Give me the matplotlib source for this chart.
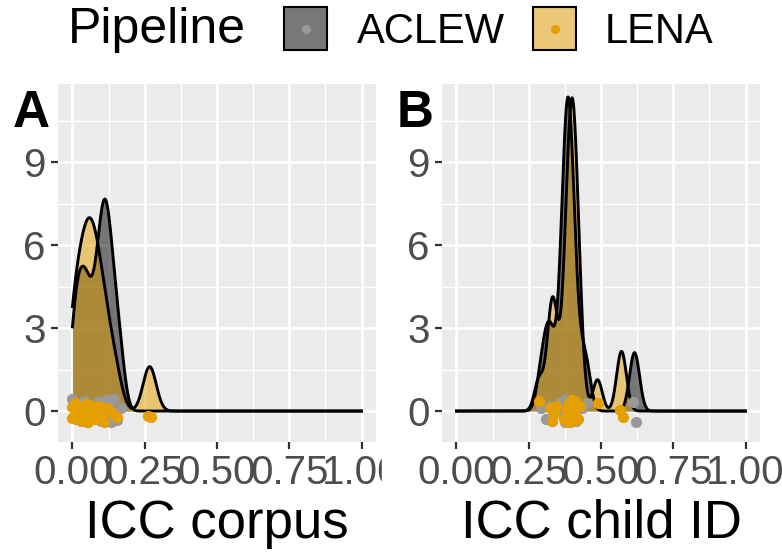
import numpy as np
import matplotlib.pyplot as plt
from matplotlib.patches import Rectangle

plt.rcParams['font.family'] = ['Liberation Sans', 'DejaVu Sans']

# ICC values per measure (one dot per measure)
corpus_aclew = [0.0, 0.0115, 0.0205, 0.0295, 0.0385, 0.05, 0.0546, 0.0703, 0.0817, 0.0897,
                0.0977, 0.104, 0.1095, 0.1145, 0.12, 0.1263, 0.1343, 0.1423, 0.1537, 0.1694]
corpus_lena = [0.0, 0.0, 0.01, 0.02, 0.03, 0.035, 0.042, 0.048, 0.054, 0.06, 0.066,
               0.072, 0.078, 0.085, 0.092, 0.1, 0.11, 0.12, 0.135, 0.155, 0.262, 0.272]
child_aclew = [0.292, 0.31, 0.322, 0.332, 0.358, 0.366, 0.371, 0.3755, 0.379, 0.3825, 0.385,
               0.387, 0.3895, 0.393, 0.3966, 0.401, 0.406, 0.414, 0.435, 0.452, 0.61, 0.622]
child_lena = [0.286, 0.322, 0.329, 0.336, 0.343, 0.372, 0.38, 0.385, 0.389, 0.393, 0.3965,
              0.399, 0.401, 0.4035, 0.407, 0.4106, 0.415, 0.42, 0.428, 0.488, 0.566, 0.576]

# vertical jitter of the dots as drawn
corpus_aclew_jit = [0.43, -0.3, 0.1, -0.2, 0.35, -0.4, 0.2, -0.1, 0.3, 0.34,
                    -0.35, 0.15, -0.25, 0.4, -0.05, 0.25, -0.38, 0.43, -0.32, 0.1]
corpus_lena_jit = [0.16, -0.25, 0.3, -0.08, -0.35, 0.1, -0.2, 0.25, -0.39, 0.22, -0.1,
                   0.05, -0.3, -0.08, 0.2, -0.25, -0.39, 0.1, -0.02, -0.2, -0.18, -0.22]
child_aclew_jit = [0.1, -0.28, 0.2, -0.35, 0.3, -0.1, 0.4, -0.4, 0.15, -0.2, 0.35,
                   -0.3, 0.05, -0.38, 0.25, -0.15, 0.3, -0.35, 0.1, 0.3, 0.34, -0.4]
child_lena_jit = [0.37, 0.1, -0.37, -0.1, 0.2, -0.3, 0.05, -0.4, 0.3, -0.15, 0.25,
                  -0.25, 0.4, -0.35, 0.1, 0.35, -0.2, -0.3, 0.2, 0.3, 0.04, -0.23]

# kernel bandwidths
bw_corpus = {'ACLEW': 0.017, 'LENA': 0.022}
bw_child = {'ACLEW': 0.016, 'LENA': 0.016}

pipelines = ['ACLEW', 'LENA']
fill_col = {'ACLEW': 'black', 'LENA': '#E69F00'}
dot_col = {'ACLEW': '#999999', 'LENA': '#E69F00'}

W, H = 782, 552
fig = plt.figure(figsize=(W / 100, H / 100), dpi=100)


def fx(px):
    return px / W


def fy(py):
    return 1 - py / H


def density(vals, h, grid):
    v = np.asarray(vals)
    z = (grid[:, None] - v[None, :]) / h
    return np.exp(-0.5 * z ** 2).sum(axis=1) / (len(v) * h * np.sqrt(2 * np.pi))


grid = np.linspace(0, 1, 1000)

panels = [
    (58, 'A', 'ICC corpus', {'ACLEW': corpus_aclew, 'LENA': corpus_lena},
     {'ACLEW': corpus_aclew_jit, 'LENA': corpus_lena_jit}, bw_corpus),
    (442, 'B', 'ICC child ID', {'ACLEW': child_aclew, 'LENA': child_lena},
     {'ACLEW': child_aclew_jit, 'LENA': child_lena_jit}, bw_child),
]

for left, tag, xlabel, data, jit, bws in panels:
    ax = fig.add_axes([fx(left), fy(442), 318 / W, 358 / H])
    ax.set_facecolor('#EBEBEB')
    for s in ax.spines.values():
        s.set_visible(False)
    ax.set_xlim(-0.05, 1.05)
    ax.set_ylim(-1.12, 11.83)
    ax.set_xticks([0, 0.25, 0.5, 0.75, 1.0])
    ax.set_xticklabels(['0.00', '0.25', '0.50', '0.75', '1.00'])
    ax.set_yticks([0, 3, 6, 9])
    ax.set_xticks([0.125, 0.375, 0.625, 0.875], minor=True)
    ax.set_yticks([1.5, 4.5, 7.5, 10.5], minor=True)
    ax.grid(which='major', color='white', lw=2.0)
    ax.grid(which='minor', color='white', lw=1.0)
    ax.set_axisbelow(True)
    ax.tick_params(which='major', length=5, width=1.6, color='#333333',
                   labelsize=29, labelcolor='#4D4D4D')
    ax.tick_params(axis='x', pad=3.5)
    ax.tick_params(axis='y', pad=4)
    ax.tick_params(which='minor', length=0)
    ax.set_xlabel(xlabel, fontsize=38, labelpad=5)

    for p in pipelines:
        d = density(data[p], bws[p], grid)
        ax.fill_between(grid, d, color=fill_col[p], alpha=0.5, lw=0)
        ax.plot(grid, d, color='black', lw=2.1)
    for p in pipelines:
        ax.scatter(data[p], jit[p], s=65, color=dot_col[p], lw=0, zorder=3)

    fig.text(fx(left - 45), fy(127), tag, fontsize=37, fontweight='bold',
             va='baseline', ha='left')

# hide the overflow of panel A's last tick label, as in the reference
fig.add_artist(Rectangle((fx(382), fy(500)), (415 - 382) / W, 55 / H,
                         transform=fig.transFigure, color='white', zorder=1))

# legend
fig.text(fx(68), fy(43), 'Pipeline', fontsize=36, va='baseline', ha='left')
for p, kx, tx in [('ACLEW', 283, 357), ('LENA', 532, 605)]:
    fig.add_artist(Rectangle((fx(kx), fy(51)), 45 / W, 45 / H,
                             transform=fig.transFigure, facecolor='#F2F2F2', lw=0))
    fig.add_artist(Rectangle((fx(kx), fy(51)), 45 / W, 45 / H,
                             transform=fig.transFigure, facecolor=fill_col[p],
                             alpha=0.5, lw=0))
    fig.add_artist(Rectangle((fx(kx + 1), fy(50)), 43 / W, 43 / H,
                             transform=fig.transFigure, fill=False,
                             edgecolor='black', lw=1.5))
    fig.add_artist(plt.Line2D([fx(kx + 22.5)], [fy(28.5)], marker='o', ms=6.5,
                              color=dot_col[p], mew=0, transform=fig.transFigure))
    fig.text(fx(tx), fy(43), p, fontsize=30, va='baseline', ha='left')

fig.savefig('out.png', dpi=100)
